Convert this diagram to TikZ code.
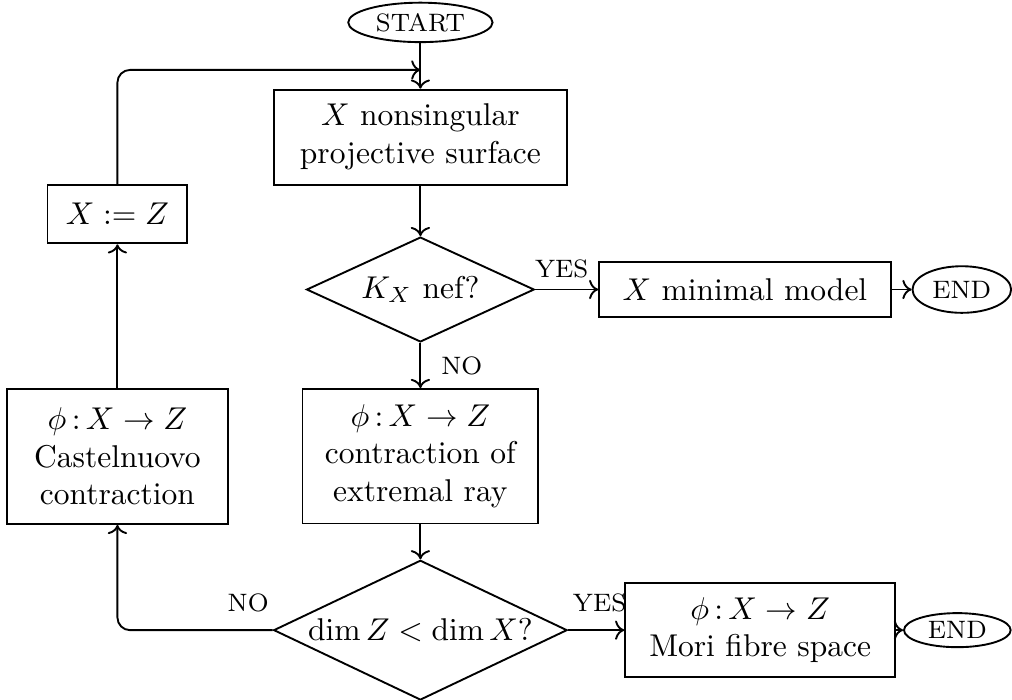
\documentclass[tikz,border=0pt]{standalone}
\usepackage{amsmath,amssymb}
\usetikzlibrary{arrows.meta,positioning,shapes.geometric,calc}

\begin{document}
\begin{tikzpicture}[
			semithick,
			stepbox/.style={draw, rectangle, align=center, inner sep=2pt},
			decision/.style={draw, diamond, aspect=2.1, inner sep=1pt, align=center},
			terminal/.style={draw, ellipse, inner sep=0.5pt, font=\footnotesize},
			tag/.style={font=\footnotesize}
			]
			\useasboundingbox (0,0) rectangle (11.29,-7.80);
			
			% Terminals
			\node[terminal, minimum width=1.61cm, minimum height=0.44cm] (start) at (4.69,-0.25) {START};
			\node[terminal, minimum width=1.10cm, minimum height=0.52cm] (end1) at (10.73,-3.23) {END};
			\node[terminal, minimum width=1.19cm, minimum height=0.38cm] (end2) at (10.68,-7.03) {END};
			
			% Main column
			\node[stepbox, minimum width=3.27cm, minimum height=1.06cm] (surface) at (4.69,-1.53) {$X$ nonsingular\\ projective surface};
			\node[decision, minimum width=2.54cm, minimum height=1.17cm] (nef) at (4.69,-3.23) {$K_X$ nef?};
			\node[stepbox, minimum width=2.63cm, minimum height=1.50cm] (contract) at (4.69,-5.09) {$\phi\,{:}\,X \to Z$\\ contraction of\\ extremal ray};
			\node[decision, minimum width=3.19cm, minimum height=1.51cm] (dimtest) at (4.69,-7.03) {$\dim Z < \dim X$?};
			
			% Outcomes
			\node[stepbox, minimum width=3.25cm, minimum height=0.62cm] (minimal) at (8.31,-3.23) {$X$ minimal model};
			\node[stepbox, minimum width=3.01cm, minimum height=1.05cm] (mori) at (8.48,-7.03) {$\phi\,{:}\,X \to Z$\\ Mori fibre space};
			
			% Left loop
			\node[stepbox, minimum width=2.46cm, minimum height=1.51cm] (castel) at (1.31,-5.09) {$\phi\,{:}\,X \to Z$\\ Castelnuovo\\ contraction};
			\node[stepbox, minimum width=1.56cm, minimum height=0.65cm] (assign) at (1.31,-2.39) {$X := Z$};
			\coordinate (join) at (4.69,-0.78);
			
			% Arrows
			\draw[->] (start) -- (surface);
			\draw[->] (surface) -- (nef);
			\draw[->] (nef) -- node[tag, right, xshift=3pt] {NO} (contract);
			\draw[->] (nef) -- node[tag, above, pos=0.42] {YES} (minimal);
			\draw[->] (minimal) -- (end1);
			\draw[->] (contract) -- (dimtest);
			\draw[->] (dimtest) -- node[tag, above, pos=0.56, yshift=2pt] {YES} (mori);
			\draw[->] (mori) -- (end2);
			\draw[->, rounded corners] (dimtest.west) node[tag, above left, inner xsep=1pt, yshift=2pt] {NO} -- (dimtest.west -| castel) -- (castel);
			\draw[->] (castel) -- (assign);
			\draw[->, rounded corners] (assign) -- (assign |- join) -- (join);
			
		\end{tikzpicture}
\end{document}
